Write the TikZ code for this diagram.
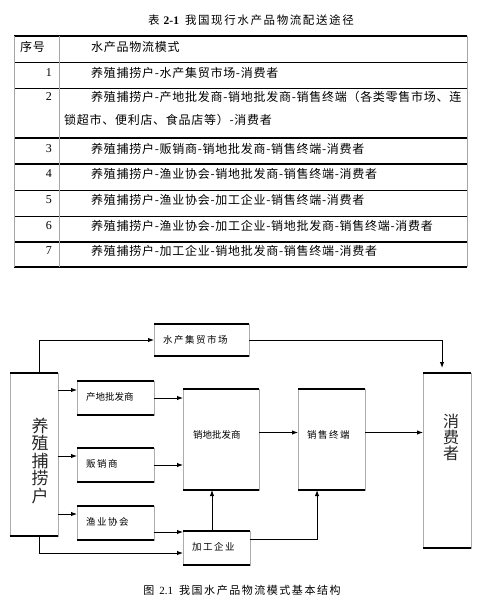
\documentclass[tikz,border=0pt]{standalone}
\usepackage{fontspec}
\setmainfont{Liberation Serif}
\newfontfamily\cjk{Noto Sans CJK SC}
\newfontfamily\cjksp[LetterSpace=6]{Noto Sans CJK SC}
\newfontfamily\cjkcap[LetterSpace=14]{Noto Sans CJK SC}
\newfontfamily\cjkwide[LetterSpace=16]{Noto Sans CJK SC}
\usetikzlibrary{arrows.meta}
\newcommand\tfont{\fontsize{12}{14}\selectfont}
\begin{document}
\begin{tikzpicture}[x=1pt,y=-1pt,
  tl/.style={inner sep=0pt, anchor=west, font=\tfont},
  bx/.style={draw=gray!65, line width=0.8pt, inner ysep=0pt, outer sep=0pt,
    anchor=north west, align=left, font=\fontsize{9.5}{11}\selectfont},
  vt/.style={inner sep=0pt, align=center, text=black!85},
  arr/.style={line width=1pt, -{Latex[length=6pt,width=4.5pt]}},
  bar/.style={line width=1.8pt}]
\useasboundingbox (0,0) rectangle (485,604);
% ---------- table ----------
\node[inner sep=0pt, font=\fontsize{11.5}{13}\selectfont] (tcap) at (251,20)
  {{\cjk 表}\hspace{4pt}{\bfseries 2-1}\hspace{6pt}{\cjkcap 我国现行水产品物流配送途径}};
\foreach \y/\w in {36/1.8,62/0.8,88/0.8,138/1.8,164/1.8,190/0.8,216/0.8,242/1.8,267/1.8}
  \draw[line width=\w pt] (14,\y) -- (467,\y);
\foreach \x in {14,59,467}
  \draw[gray!70, line width=0.8pt] (\x,36) -- (\x,267);
\node[tl] (h1) at (20,47) {\cjksp 序号};
\node[tl] (h2) at (91,47) {\cjksp 水产品物流模式};
\foreach \n/\y in {1/73,2/97,3/149,4/174,5/200,6/226,7/251}
  \node[tl, anchor=east] (n\n) at (52,\y) {\n};
\node[tl] (t1) at (91,73) {\cjksp 养殖捕捞户-水产集贸市场-消费者};
\node[tl] (t2) at (91,97) {\cjksp 养殖捕捞户-产地批发商-销地批发商-销售终端（各类零售市场、连};
\node[tl] (t2b) at (64,120) {\cjksp 锁超市、便利店、食品店等）-消费者};
\node[tl] (t3) at (91,149) {\cjksp 养殖捕捞户-贩销商-销地批发商-销售终端-消费者};
\node[tl] (t4) at (91,174) {\cjksp 养殖捕捞户-渔业协会-销地批发商-销售终端-消费者};
\node[tl] (t5) at (91,200) {\cjksp 养殖捕捞户-渔业协会-加工企业-销售终端-消费者};
\node[tl] (t6) at (91,226) {\cjksp 养殖捕捞户-渔业协会-加工企业-销地批发商-销售终端-消费者};
\node[tl] (t7) at (91,251) {\cjksp 养殖捕捞户-加工企业-销地批发商-销售终端-消费者};
% ---------- diagram ----------
\node[bx, inner xsep=0pt, minimum width=48pt, minimum height=163pt] (yz) at (10,373) {};
\node[bx, inner xsep=0pt, minimum width=48pt, minimum height=175pt] (xf) at (423,373) {};
\node[bx, inner xsep=9pt, text width=77pt, minimum height=32pt] (sc) at (154,324) {\cjkwide 水产集贸市场};
\node[bx, inner xsep=9pt, text width=59pt, minimum height=34pt] (cd) at (77,381) {\raisebox{4pt}{\cjk 产地批发商}};
\node[bx, inner xsep=9pt, text width=59pt, minimum height=34pt] (fx) at (77,448) {\raisebox{3pt}{\cjkwide 贩销商}};
\node[bx, inner xsep=9pt, text width=59pt, minimum height=34pt] (yy) at (77,506) {\raisebox{3pt}{\cjkwide 渔业协会}};
\node[bx, inner xsep=10pt, text width=56pt, minimum height=101pt] (xd) at (183,389) {\raisebox{9.5pt}{\cjk 销地批发商}};
\node[bx, inner xsep=9pt, text width=49pt, minimum height=101pt] (zd) at (298,389) {\raisebox{10pt}{\cjkwide 销售终端}};
\node[bx, inner xsep=9pt, text width=49pt, minimum height=34pt] (jg) at (183,531) {\raisebox{3pt}{\cjkwide 加工企业}};
\foreach \n in {yz,xf,sc,cd,fx,yy,xd,zd,jg}
  \draw[bar] (\n.north west) -- (\n.north east) (\n.south west) -- (\n.south east);
\node[vt, font=\fontsize{17}{17.5}\selectfont\cjk] (yzt) at (40,461) {养\\殖\\捕\\捞\\户};
\node[vt, font=\fontsize{16}{16}\selectfont\cjk] (xft) at (451,437) {消\\费\\者};
% connectors
\draw[arr] ([xshift=5pt]yz.north) |- (sc.west);
\draw[arr, shorten >=5pt] (sc.east) -| ([xshift=-5pt]xf.north);
\coordinate (p1) at ([yshift=8pt]cd.west);
\draw[arr] (yz.east |- p1) -- (p1);
\coordinate (p2) at ([yshift=9pt]fx.west);
\draw[arr] (yz.east |- p2) -- (p2);
\coordinate (p3) at ([yshift=9pt]yy.west);
\draw[arr] (yz.east |- p3) -- (p3);
\draw[arr] (cd.east) -- (cd.east -| xd.west);
\draw[arr] (fx.east) -- (fx.east -| xd.west);
\coordinate (p4) at ([yshift=-9pt]yy.east);
\draw[arr] (p4) -- (p4 -| jg.west);
\draw[arr] ([xshift=5pt]yz.south) |- ([yshift=-5pt]jg.west);
\coordinate (p5) at ([xshift=-4.5pt]jg.north);
\draw[arr] (p5) -- (p5 |- xd.south);
\coordinate (p6) at ([yshift=9pt]jg.east);
\coordinate (p7) at ([xshift=-14.5pt]zd.south);
\draw[arr] (p6) -| (p7);
\coordinate (p8) at ([yshift=7pt]xd.east);
\draw[arr] (p8) -- (p8 -| zd.west);
\draw[arr] (p8 -| zd.east) -- (p8 -| xf.west);
% caption
\node[inner sep=0pt, font=\fontsize{11}{13}\selectfont] (fcap) at (242,590)
  {{\cjk 图}\hspace{5pt}2.1\hspace{6pt}{\cjkcap 我国水产品物流模式基本结构}};
\end{tikzpicture}
\end{document}
